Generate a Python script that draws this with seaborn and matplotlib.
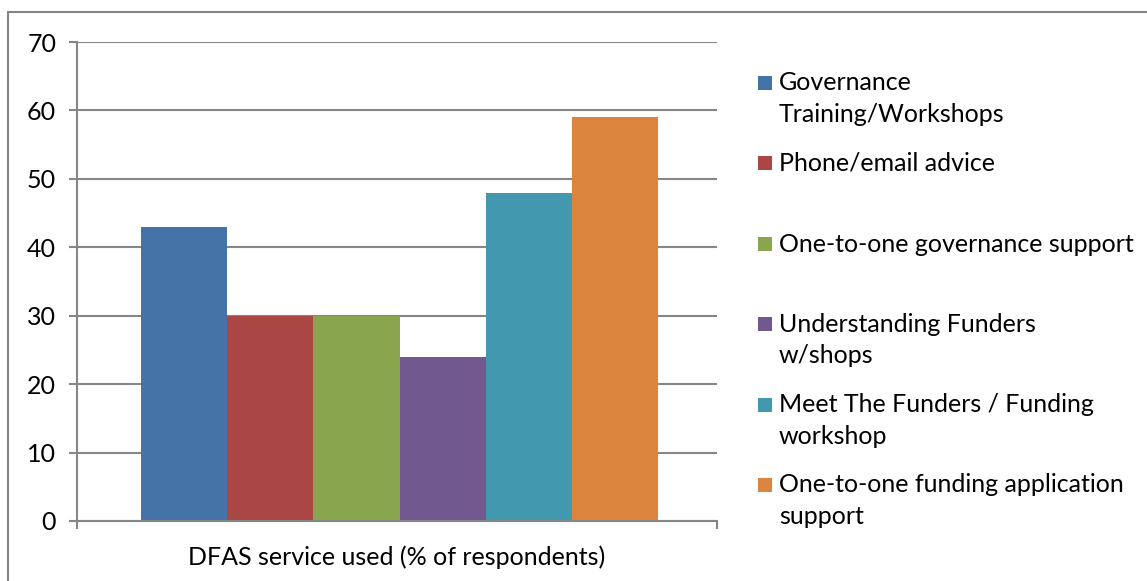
import matplotlib
matplotlib.use("Agg")
import matplotlib.pyplot as plt
import seaborn as sns
import pandas as pd
from matplotlib.patches import Rectangle

services = [
    "Governance\nTraining/Workshops",
    "Phone/email advice",
    "One-to-one governance support",
    "Understanding Funders\nw/shops",
    "Meet The Funders / Funding\nworkshop",
    "One-to-one funding application\nsupport",
]
values = [43, 30, 30, 24, 48, 59]
colors = ["#4572A7", "#AA4643", "#89A54E", "#71588F", "#4198AF", "#DB843D"]
category = "DFAS service used (% of respondents)"
y_ticks = [0, 10, 20, 30, 40, 50, 60, 70]

df = pd.DataFrame({"cat": [category] * len(services), "service": services, "value": values})

sns.set_theme(style="white")
plt.rcParams["font.family"] = ["Lato", "DejaVu Sans"]
FS = 18
W, H = 1147, 581
fig = plt.figure(figsize=(W / 100, H / 100), dpi=100)
ax = fig.add_axes([77 / W, 1 - 521 / H, (717 - 77) / W, (521 - 42) / H])

sns.barplot(data=df, x="cat", y="value", hue="service", hue_order=services,
            palette=colors, saturation=1, width=0.808, ax=ax, legend=False,
            linewidth=0, edgecolor="none")

grid_c = "#868686"
xlo, xhi = -0.504, 0.496
ax.set_ylim(0, 70)
ax.set_xlim(xlo, xhi)
ax.set_yticks(y_ticks)
ax.set_yticklabels([str(t) for t in y_ticks], fontsize=FS, color="black")
ax.yaxis.grid(True, color=grid_c, linewidth=1.5)
ax.set_axisbelow(True)
ax.set_xticks([xlo, xhi])
ax.set_xticklabels(["", ""])
ax.tick_params(axis="both", direction="out", length=6, width=1.5, color=grid_c, left=True, bottom=True)
ax.tick_params(axis="y", pad=9)
ax.set_xlabel(category, fontsize=FS, color="black", labelpad=8)
ax.set_ylabel("")
for s in ["top", "right"]:
    ax.spines[s].set_visible(False)
for s in ["left", "bottom"]:
    ax.spines[s].set_color(grid_c)
    ax.spines[s].set_linewidth(1.5)

# Legend (manual, Excel-like)
first_line_y = [83, 163, 244, 324, 405, 485]
line_gap = 31.5
for lab, col, yc in zip(services, colors, first_line_y):
    fig.patches.append(Rectangle((758 / W, 1 - (yc + 7) / H), 14 / W, 14 / H,
                                 transform=fig.transFigure, facecolor=col, edgecolor="none"))
    for i, line in enumerate(lab.split("\n")):
        fig.text(779 / W, 1 - (yc + i * line_gap) / H, line, fontsize=FS,
                 va="center", ha="left", color="black")

# outer border (partially cropped)
fig.patches.append(Rectangle((8 / W, -0.1), 1.2, 1 - 12 / H + 0.1, transform=fig.transFigure,
                             facecolor="none", edgecolor=grid_c, linewidth=1.5))

fig.savefig("out.png", dpi=100)
